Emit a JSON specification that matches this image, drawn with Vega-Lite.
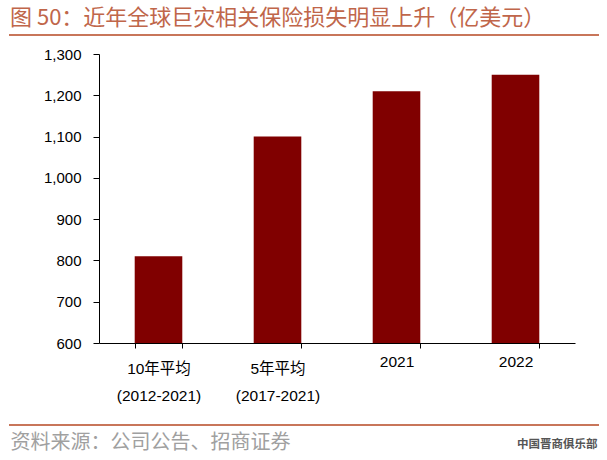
{
  "$schema": "https://vega.github.io/schema/vega-lite/v6.json",
  "autosize": "none",
  "width": 476,
  "height": 289,
  "padding": {"left": 99, "top": 54, "right": 32, "bottom": 117},
  "background": "white",
  "config": {"view": {"stroke": null}},
  "title": {
    "text": "图 50：近年全球巨灾相关保险损失明显上升（亿美元）",
    "anchor": "start",
    "frame": "group",
    "orient": "top",
    "dx": -89,
    "dy": 22,
    "offset": 4,
    "baseline": "bottom",
    "font": "Noto Sans CJK SC",
    "fontSize": 22,
    "fontWeight": "normal",
    "color": "#C0664A"
  },
  "data": {
    "values": [
      {"cat": "10年平均|(2012-2021)", "loss": 810},
      {"cat": "5年平均|(2017-2021)", "loss": 1100},
      {"cat": "2021", "loss": 1210},
      {"cat": "2022", "loss": 1250}
    ]
  },
  "layer": [
    {
      "mark": {"type": "bar", "color": "#800000", "clip": true},
      "encoding": {
        "x": {
          "field": "cat",
          "type": "nominal",
          "sort": null,
          "scale": {"paddingInner": 0.6, "paddingOuter": 0.3},
          "axis": {
            "title": "资料来源：公司公告、招商证券",
            "titleFont": "Noto Sans CJK SC",
            "titleFontSize": 20,
            "titleFontWeight": "normal",
            "titleColor": "#A0A0A0",
            "titleAnchor": "start",
            "titleAlign": "left",
            "titleBaseline": "middle",
            "titleX": -89,
            "titleY": 99,
            "labelExpr": "split(datum.label, '|')",
            "labelAngle": 0,
            "labelFont": "Liberation Sans, Noto Sans CJK SC",
            "labelFontSize": 15.5,
            "labelColor": "black",
            "labelLineHeight": 27,
            "labelPadding": 13,
            "labelBaseline": {"condition": {"test": "indexof(datum.label, '|') < 0", "value": "middle"}, "value": "top"},
            "tickBand": "extent",
            "tickSize": 5,
            "tickColor": "black",
            "domainColor": "black",
            "grid": false
          }
        },
        "y": {
          "field": "loss",
          "type": "quantitative",
          "scale": {"domain": [600, 1300], "zero": false, "nice": false},
          "axis": {
            "title": "中国晋商俱乐部",
            "titleAngle": 0,
            "titleFont": "Noto Sans CJK SC",
            "titleFontSize": 11.5,
            "titleFontWeight": "bold",
            "titleColor": "#555555",
            "titleAlign": "right",
            "titleBaseline": "middle",
            "titleX": 498,
            "titleY": 390,
            "values": [600, 700, 800, 900, 1000, 1100, 1200, 1300],
            "format": ",d",
            "labelFont": "Liberation Sans",
            "labelFontSize": 15,
            "labelColor": "black",
            "labelPadding": 12,
            "tickSize": 6,
            "tickColor": "black",
            "domainColor": "black",
            "grid": false
          }
        }
      }
    },
    {
      "data": {"values": [{}]},
      "mark": {"type": "rule", "color": "#C8765A", "strokeWidth": 2},
      "encoding": {
        "x": {"value": -90},
        "x2": {"value": 500},
        "y": {"value": -19}
      }
    },
    {
      "data": {"values": [{}]},
      "mark": {"type": "rule", "color": "#C8765A", "strokeWidth": 2},
      "encoding": {
        "x": {"value": -90},
        "x2": {"value": 500},
        "y": {"value": 371}
      }
    }
  ]
}
